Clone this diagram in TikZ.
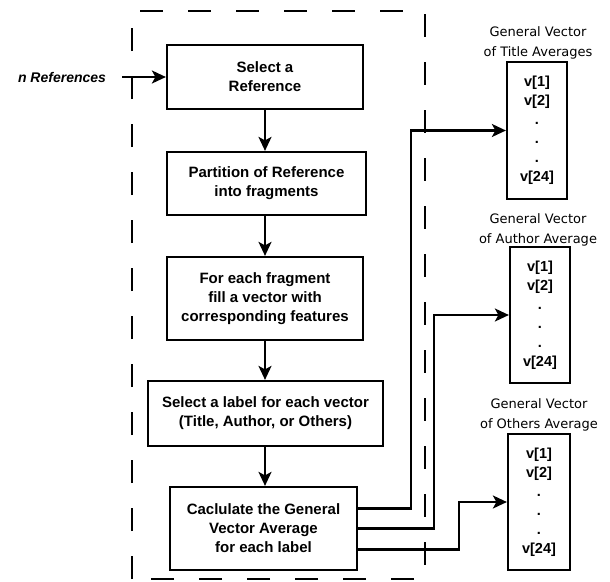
\documentclass[tikz,border=0pt]{standalone}
\usepackage{fontspec}
\setmainfont{Liberation Sans}
\newfontfamily\titlefont{DejaVu Sans}
\usetikzlibrary{arrows.meta}

\begin{document}
\begin{tikzpicture}[x=1pt,y=-1pt,line join=miter,line width=2.2pt,>={Stealth[length=14pt,width=13pt,inset=3.5pt]}]
		\def\boxfont{\fontsize{15}{19}\selectfont\bfseries}
		\tikzset{procbox/.style={draw,rectangle,align=center,font=\boxfont,inner sep=0pt}}
		\tikzset{vecbox/.style={draw,rectangle,align=center,minimum width=60pt,minimum height=137pt,inner sep=0pt,font=\fontsize{14.5}{19}\selectfont\bfseries}}
		\tikzset{vectitle/.style={align=center,font=\titlefont\fontsize{13}{20}\selectfont}}
		\useasboundingbox (0,0) rectangle (610,581);
		% dashed frame
		\draw[dash pattern=on 23pt off 25pt] (132,579) -- (132,11) -- (425,11) -- (425,579) -- cycle;
		% steps
		\node[procbox,minimum width=196pt,minimum height=64pt] (sel) at (265,77) {Select a\\Reference};
		\node[procbox,minimum width=199pt,minimum height=63pt] (part) at (266.5,183.5) {Partition of Reference\\into fragments};
		\node[procbox,minimum width=196pt,minimum height=83pt] (fill) at (265,298.5) {For each fragment\\fill a vector with\\corresponding features};
		\node[procbox,minimum width=235pt,minimum height=65pt] (lab) at (265.5,413.5) {Select a label for each vector\\(Title, Author, or Others)};
		\node[procbox,minimum width=187pt,minimum height=83pt] (calc) at (263.5,528.5) {Caclulate the General\\Vector Average\\for each label};
		\node[font=\fontsize{14}{17}\selectfont\bfseries\itshape] (nref) at (62,77) {n References};
		% vectors
		\node[vecbox] (vt) at (537,130.5) {v[1]\\v[2]\\.\\.\\.\\v[24]};
		\node[vecbox,minimum height=136pt] (va) at (540,315) {v[1]\\v[2]\\.\\.\\.\\v[24]};
		\node[vecbox,minimum width=62pt,minimum height=136pt] (vo) at (539,502) {v[1]\\v[2]\\.\\.\\.\\v[24]};
		\node[vectitle] (vttitle) at (538,43) {General Vector\\of Title Averages};
		\node[vectitle] (vatitle) at (538,230) {General Vector\\of Author Average};
		\node[vectitle] (votitle) at (539,415) {General Vector\\of Others Average};
		% flow
		\draw[->] ([xshift=12pt]nref.east) -- (sel.west);
		\draw[->] (sel.south) -- (sel.south |- part.north);
		\draw[->] (sel.south |- part.south) -- (sel.south |- fill.north);
		\draw[->] (fill.south) -- (fill.south |- lab.north);
		\draw[->] (fill.south |- lab.south) -- (fill.south |- calc.north);
		\draw[->] ([yshift=20pt]calc.east) -- ++(53,0) |- (vt.west);
		\draw[->] (calc.east) -- ++(76,0) |- (va.west);
		\draw[->] ([yshift=-21pt]calc.east) -- ++(101,0) |- (vo.west);
\end{tikzpicture}
\end{document}
